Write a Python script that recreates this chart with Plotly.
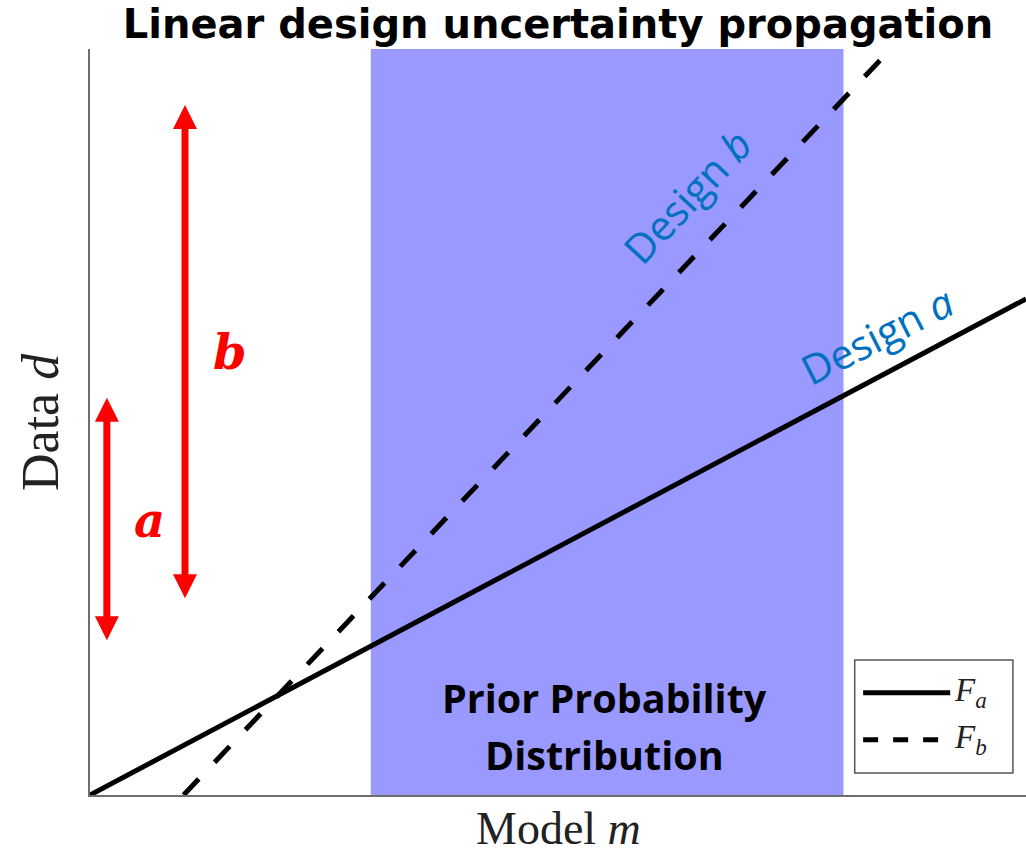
import plotly.graph_objects as go

# Model axis span and data axis span
m_range = [0.0, 10.0]
d_range = [0.0, 8.0]

# Forward models: design a (shallow) and design b (steep)
fa_m = [0.0, 10.0]
fa_d = [0.0, 5.32]
fb_m = [1.0, 9.0]
fb_d = [0.0, 8.47]

# Prior on the model parameter
prior_range = [3.0, 8.05]

# Spread of predicted data for each design (arrow extents)
spread_a_x = 0.18
spread_a = [1.66, 4.26]
spread_b_x = 1.015
spread_b = [2.11, 7.40]

RED = "#ff0000"
BLUE = "#0070c0"
BAND = "#9999ff"
SERIF = "Liberation Serif"

fig = go.Figure()

fig.add_shape(type="rect", xref="x", yref="y",
              x0=prior_range[0], x1=prior_range[1], y0=d_range[0], y1=d_range[1],
              fillcolor=BAND, line_width=0, layer="below")

fig.add_trace(go.Scatter(x=fa_m, y=fa_d, mode="lines",
                         line=dict(color="black", width=5), showlegend=False))
fig.add_trace(go.Scatter(x=fb_m, y=fb_d, mode="lines",
                         line=dict(color="black", width=5, dash="22px,23px"),
                         showlegend=False))

# double-headed arrows: shaft trimmed a little so the heads cover its ends
trim = 0.13
for ax, (lo, hi) in [(spread_a_x, spread_a), (spread_b_x, spread_b)]:
    fig.add_trace(go.Scatter(x=[ax, ax], y=[lo + trim, hi - trim], mode="lines",
                             line=dict(color=RED, width=7), showlegend=False))
    fig.add_trace(go.Scatter(x=[ax, ax], y=[lo, hi], mode="markers",
                             marker=dict(symbol=["arrow-down", "arrow-up"], size=24,
                                         color=RED, line_width=0),
                             showlegend=False))

annotations = [
    dict(x=0.64, y=2.95, xref="x", yref="y", text="<b><i>a</i></b>",
         font=dict(family="DejaVu Serif", size=48, color=RED)),
    dict(x=1.5, y=4.75, xref="x", yref="y", text="<b><i>b</i></b>",
         font=dict(family="DejaVu Serif", size=48, color=RED)),
    dict(x=6.38, y=6.42, xref="x", yref="y", text="Design <i>b</i>", textangle=-47,
         font=dict(family="Open Sans", size=41, color=BLUE)),
    dict(x=8.41, y=4.93, xref="x", yref="y", text="Design <i>a</i>", textangle=-27,
         font=dict(family="Open Sans", size=41, color=BLUE)),
    dict(x=5.5, y=1.04, xref="x", yref="y", text="<b>Prior Probability</b>",
         font=dict(family="Open Sans", size=39.5, color="black")),
    dict(x=5.5, y=0.43, xref="x", yref="y", text="<b>Distribution</b>",
         font=dict(family="Open Sans", size=39.5, color="black")),
    dict(x=0.5, y=0, xref="paper", yref="paper", yshift=-33, text="Model <i>m</i>",
         font=dict(family=SERIF, size=46, color="#222222")),
    dict(x=0, y=0.5, xref="paper", yref="paper", xshift=-50, text="Data <i>d</i>",
         textangle=-90, font=dict(family=SERIF, size=52, color="#222222")),
]

# legend box drawn in paper coordinates
lg_x0, lg_x1, lg_y0, lg_y1 = 0.817, 0.986, 0.0295, 0.181
fig.add_shape(type="rect", xref="paper", yref="paper", x0=lg_x0, x1=lg_x1,
              y0=lg_y0, y1=lg_y1, fillcolor="white", line=dict(color="#555555", width=1.5))
fig.add_shape(type="line", xref="paper", yref="paper", x0=0.826, x1=0.919,
              y0=0.137, y1=0.137, line=dict(color="black", width=5))
fig.add_shape(type="line", xref="paper", yref="paper", x0=0.826, x1=0.919,
              y0=0.074, y1=0.074, line=dict(color="black", width=5, dash="dash"))
annotations += [
    dict(x=0.921, y=0.137, xref="paper", yref="paper", xanchor="left",
         text="<i>F</i><sub><i>a</i></sub>", font=dict(family=SERIF, size=33, color="#222222")),
    dict(x=0.921, y=0.074, xref="paper", yref="paper", xanchor="left",
         text="<i>F</i><sub><i>b</i></sub>", font=dict(family=SERIF, size=33, color="#222222")),
]
for a in annotations:
    a.setdefault("showarrow", False)
    a.setdefault("xanchor", "center")
    a.setdefault("yanchor", "middle")

fig.update_layout(
    width=1026, height=856,
    margin=dict(l=90, r=0, t=49, b=61),
    paper_bgcolor="white", plot_bgcolor="white",
    title=dict(text="<b>Linear design uncertainty propagation</b>",
               x=0.5, xref="paper", xanchor="center",
               y=1 - 24 / 856, yref="container", yanchor="middle",
               font=dict(family="DejaVu Sans", size=40, color="black")),
    annotations=annotations,
    showlegend=False,
)
fig.update_xaxes(range=m_range, showline=True, linecolor="#6e6e6e", linewidth=2,
                 showgrid=False, zeroline=False, showticklabels=False, ticks="")
fig.update_yaxes(range=d_range, showline=True, linecolor="#6e6e6e", linewidth=2,
                 showgrid=False, zeroline=False, showticklabels=False, ticks="")

fig.write_html("out.html")
